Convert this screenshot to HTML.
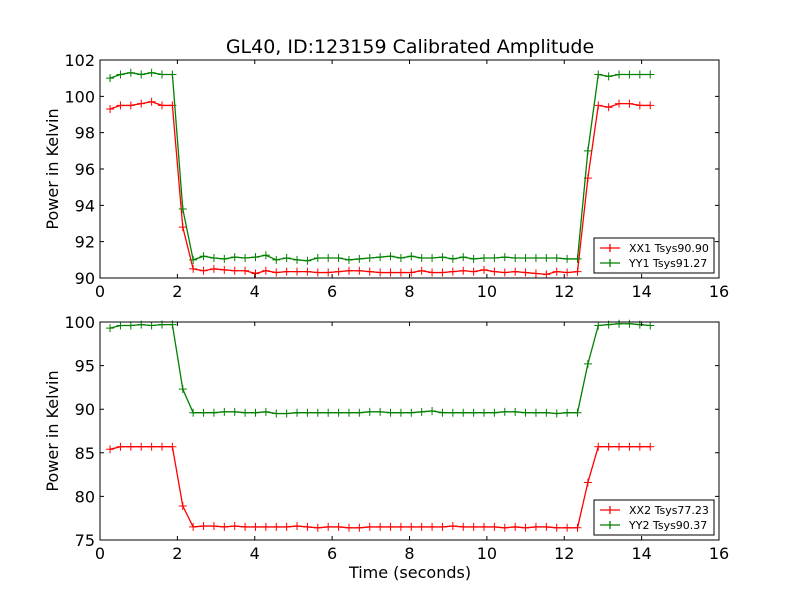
<!DOCTYPE html>
<html><head><meta charset="utf-8"><style>
body{margin:0;background:#fff;}
svg text{font-family:"DejaVu Sans","Liberation Sans",sans-serif;}
</style></head><body>
<svg id="c" width="800" height="600" xmlns="http://www.w3.org/2000/svg">
<rect width="800" height="600" fill="#fff"/>
<text x="410" y="53" font-size="19" text-anchor="middle">GL40, ID:123159 Calibrated Amplitude</text>
</svg>
<script>
const t0 = 0.26, dt = 0.2685, nPts = 53;
const xx1 = [99.3,99.5,99.5,99.6,99.7,99.5,99.5,92.8,
90.5,90.4,90.5,90.45,90.4,90.4,90.25,90.4,90.3,90.35,90.35,90.35,90.3,90.3,90.35,90.4,90.4,90.35,90.3,90.3,90.3,90.3,90.4,90.3,90.3,90.35,90.4,90.35,90.45,90.35,90.3,90.35,90.3,90.25,90.2,90.35,90.3,90.35,
95.5,99.5,99.4,99.6,99.6,99.5,99.5];
const yy1 = [101.0,101.2,101.3,101.2,101.3,101.2,101.2,93.8,
91.0,91.2,91.1,91.05,91.15,91.1,91.15,91.25,91.0,91.1,91.0,90.95,91.1,91.1,91.1,91.0,91.05,91.1,91.15,91.2,91.1,91.2,91.1,91.1,91.15,91.05,91.15,91.05,91.1,91.1,91.15,91.1,91.1,91.1,91.1,91.1,91.05,91.05,
97.0,101.2,101.1,101.2,101.2,101.2,101.2];
const xx2 = [85.4,85.7,85.7,85.7,85.7,85.7,85.7,78.9,
76.5,76.6,76.6,76.5,76.6,76.5,76.5,76.5,76.5,76.5,76.6,76.5,76.4,76.5,76.5,76.4,76.4,76.5,76.5,76.5,76.5,76.5,76.5,76.5,76.5,76.6,76.5,76.5,76.5,76.5,76.4,76.5,76.4,76.5,76.5,76.4,76.4,76.4,
81.6,85.7,85.7,85.7,85.7,85.7,85.7];
const yy2 = [99.3,99.6,99.6,99.7,99.6,99.7,99.7,92.3,
89.6,89.6,89.6,89.7,89.7,89.6,89.6,89.7,89.5,89.5,89.6,89.6,89.6,89.6,89.6,89.6,89.6,89.7,89.7,89.6,89.6,89.6,89.7,89.8,89.6,89.6,89.6,89.6,89.6,89.6,89.7,89.7,89.6,89.6,89.6,89.5,89.6,89.6,
95.2,99.6,99.7,99.8,99.8,99.7,99.6];
const xTicks = [0,2,4,6,8,10,12,14,16];
const yTicksTop = [90,92,94,96,98,100,102];
const yTicksBot = [75,80,85,90,95,100];
const legendTop = ["XX1 Tsys90.90","YY1 Tsys91.27"];
const legendBot = ["XX2 Tsys77.23","YY2 Tsys90.37"];

const svg = document.getElementById('c');
const NS = 'http://www.w3.org/2000/svg';
function mk(tag, attrs, parent){const e=document.createElementNS(NS,tag);for(const k in attrs)e.setAttribute(k,attrs[k]);(parent||svg).appendChild(e);return e;}

function panel(top, bottom, ymin, ymax, yTicks, series, colors, labels, pname){
  const L=100,R=719;
  const xs = v => L + (v-0)/(16-0)*(R-L);
  const ys = v => bottom - (v-ymin)/(ymax-ymin)*(bottom-top);
  const g = mk('g',{});
  
  
  series.forEach((arr,si)=>{
    const pts = arr.map((v,i)=>[xs(t0+dt*i), ys(v)]);
    const pl = mk('polyline',{points:pts.map(p=>p.join(',')).join(' '),fill:'none',stroke:colors[si],'stroke-width':1.3},g);
    
    
    let d='';
    pts.forEach(p=>{d+=`M${p[0]-4},${p[1]}h8M${p[0]},${p[1]-4}v8`;});
    const mpath = mk('path',{d:d,stroke:colors[si],'stroke-width':1},g);
    
    
  });
  const fr = mk('rect',{x:L,y:top,width:R-L,height:bottom-top,fill:'none',stroke:'#000','stroke-width':1},g);
  
  
  xTicks.forEach(v=>{
    const x=xs(v);
    mk('path',{d:`M${x},${bottom}v-4M${x},${top}v4`,stroke:'#000'},g);
    const t=mk('text',{x:x,y:bottom+19,'font-size':16,'text-anchor':'middle'},g);
    t.textContent=v;
    
    
  });
  yTicks.forEach(v=>{
    const y=ys(v);
    mk('path',{d:`M${L},${y}h4M${R},${y}h-4`,stroke:'#000'},g);
    const t=mk('text',{x:L-5,y:y+6,'font-size':16,'text-anchor':'end'},g);
    t.textContent=v;
    
    
  });
  const yl=mk('text',{x:0,y:0,'font-size':16,'text-anchor':'middle',transform:`translate(58,${(top+bottom)/2}) rotate(-90)`},g);
  yl.textContent='Power in Kelvin';
  
  
  // legend
  const lg=mk('g',{},g);
  
  
  const ly=bottom-40;
  mk('rect',{x:594,y:ly,width:120,height:35,fill:'#fff',stroke:'#000'},lg);
  labels.forEach((lab,i)=>{
    const yy=ly+10+i*15;
    mk('path',{d:`M600,${yy}h20M610,${yy-4}v8`,stroke:colors[i],'stroke-width':1.3},lg);
    const t=mk('text',{x:629,y:yy+4,'font-size':11},lg);
    t.textContent=lab;
    
    
  });
}
panel(60,278,90,102,yTicksTop,[xx1,yy1],['#ff0000','#008000'],legendTop,'top-panel');
panel(322,540,75,100,yTicksBot,[xx2,yy2],['#ff0000','#008000'],legendBot,'bottom-panel');
const xl=mk('text',{x:410,y:578,'font-size':16,'text-anchor':'middle'});
xl.textContent='Time (seconds)';


</script>
</body></html>
